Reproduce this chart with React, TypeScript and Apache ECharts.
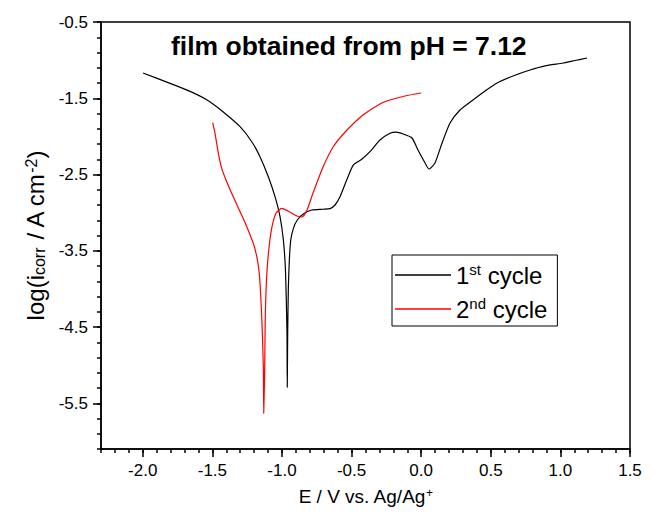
import React, { useEffect, useRef } from "react";
import * as echarts from "echarts";

// 1st cycle: potential (V vs Ag/Ag+) and log(i)
const cycle1E = [-1.998, -1.804, -1.66, -1.538, -1.424, -1.301, -1.217, -1.158, -1.098, -1.05, -1.014, -0.99, -0.976, -0.969, -0.964, -0.962, -0.959, -0.954, -0.947, -0.937, -0.918, -0.89, -0.847, -0.786, -0.703, -0.655, -0.619, -0.583, -0.535, -0.487, -0.427, -0.368, -0.296, -0.224, -0.18, -0.13, -0.066, -0.023, 0.028, 0.056, 0.099, 0.15, 0.207, 0.279, 0.372, 0.459, 0.545, 0.66, 0.782, 0.89, 1.019, 1.105, 1.191];
const cycle1LogI = [-1.169, -1.305, -1.41, -1.523, -1.676, -1.873, -2.07, -2.266, -2.529, -2.791, -3.053, -3.359, -3.709, -4.146, -4.583, -5.291, -4.583, -3.971, -3.621, -3.359, -3.206, -3.097, -3.018, -2.966, -2.956, -2.948, -2.9, -2.791, -2.572, -2.375, -2.301, -2.201, -2.048, -1.96, -1.945, -1.969, -2.021, -2.179, -2.349, -2.428, -2.349, -2.087, -1.825, -1.654, -1.523, -1.405, -1.3, -1.208, -1.13, -1.075, -1.038, -1.005, -0.972];

// 2nd cycle
const cycle2E = [-1.498, -1.481, -1.457, -1.433, -1.397, -1.35, -1.301, -1.253, -1.206, -1.181, -1.163, -1.151, -1.141, -1.134, -1.131, -1.124, -1.12, -1.11, -1.095, -1.074, -1.043, -1.002, -0.957, -0.892, -0.856, -0.82, -0.777, -0.705, -0.633, -0.533, -0.418, -0.296, -0.224, -0.116, -0.001];
const cycle2LogI = [-1.821, -1.96, -2.222, -2.419, -2.594, -2.791, -2.988, -3.184, -3.403, -3.578, -3.796, -4.146, -4.583, -5.02, -5.632, -5.02, -4.365, -3.84, -3.49, -3.206, -3.009, -2.943, -2.979, -3.044, -3.057, -2.966, -2.743, -2.402, -2.139, -1.916, -1.72, -1.575, -1.523, -1.47, -1.431];

const seriesNames = ["1st cycle", "2nd cycle"];
const xTickLabels = [-2.0, -1.5, -1.0, -0.5, 0.0, 0.5, 1.0, 1.5];
const yTickLabels = [-0.5, -1.5, -2.5, -3.5, -4.5, -5.5];
const titleText = "film obtained from pH = 7.12";

const FONT = "'Liberation Sans', Arial, Helvetica, sans-serif";

export default function App() {
  const ref = useRef<HTMLDivElement>(null);
  useEffect(() => {
    if (!ref.current) return;
    const chart = echarts.init(ref.current, null, { renderer: "svg" });
    const pairs = (xs: number[], ys: number[]) => xs.map((x, i) => [x, ys[i]]);
    const tickLine = { color: "#000", width: 1.5 };
    chart.setOption({
      animation: false,
      backgroundColor: "#fff",
      textStyle: { fontFamily: FONT, color: "#000" },
      title: {
        text: titleText,
        left: 171,
        top: 32,
        padding: 0,
        textStyle: { fontFamily: FONT, fontSize: 26.5, fontWeight: "bold", color: "#000" },
      },
      grid: {
        left: 101,
        right: 26,
        top: 22,
        bottom: 71,
        show: true,
        borderColor: "#000",
        borderWidth: 1.5,
        backgroundColor: "transparent",
      },
      legend: {
        orient: "vertical",
        left: 392,
        top: 255,
        padding: [7, 10, 4, 3],
        itemGap: 8,
        itemWidth: 56,
        itemHeight: 1.3,
        icon: "rect",
        borderColor: "#000",
        borderWidth: 1,
        data: seriesNames,
        formatter: (name: string) =>
          name === seriesNames[0] ? "1{sup|st} cycle" : "2{sup|nd} cycle",
        textStyle: {
          fontFamily: FONT,
          fontSize: 24,
          color: "#000",
          lineHeight: 26,
          rich: {
            sup: { fontFamily: FONT, fontSize: 15, color: "#000", verticalAlign: "top", lineHeight: 15 },
          },
        },
      },
      xAxis: [
        {
          type: "value",
          min: -2.3,
          max: 1.5,
          position: "bottom",
          splitLine: { show: false },
          name: "E / V vs. Ag/Ag{sup|+}",
          nameLocation: "middle",
          nameGap: 38,
          nameTextStyle: {
            fontFamily: FONT,
            fontSize: 19,
            color: "#000",
            rich: { sup: { fontFamily: FONT, fontSize: 12, color: "#000", verticalAlign: "top", lineHeight: 12 } },
          },
          axisLine: { show: true, onZero: false, lineStyle: tickLine },
          axisTick: { show: true, customValues: xTickLabels, length: 8, lineStyle: tickLine },
          axisLabel: {
            customValues: xTickLabels,
            formatter: (v: number) => v.toFixed(1),
            fontFamily: FONT,
            fontSize: 17,
            color: "#000",
            margin: 13,
          },
        },
        {
          type: "value",
          min: -2.3,
          max: 1.5,
          interval: 0.1,
          position: "bottom",
          offset: 0,
          splitLine: { show: false },
          axisLine: { show: false, onZero: false },
          axisTick: { show: true, length: 4, lineStyle: tickLine },
          axisLabel: { show: false },
        },
      ],
      yAxis: [
        {
          type: "value",
          min: -6.1,
          max: -0.5,
          position: "left",
          splitLine: { show: false },
          name: "log(i{sub|corr} / A cm{sup|-2})",
          nameLocation: "middle",
          nameGap: 54,
          nameTextStyle: {
            fontFamily: FONT,
            fontSize: 24,
            color: "#000",
            rich: {
              sub: { fontFamily: FONT, fontSize: 16, color: "#000", verticalAlign: "bottom", lineHeight: 16 },
              sup: { fontFamily: FONT, fontSize: 16, color: "#000", verticalAlign: "top", lineHeight: 16 },
            },
          },
          axisLine: { show: true, onZero: false, lineStyle: tickLine },
          axisTick: { show: true, customValues: yTickLabels, length: 8, lineStyle: tickLine },
          axisLabel: {
            customValues: yTickLabels,
            formatter: (v: number) => v.toFixed(1),
            fontFamily: FONT,
            fontSize: 17,
            color: "#000",
            margin: 13,
          },
        },
        {
          type: "value",
          min: -6.1,
          max: -0.5,
          interval: 0.2,
          position: "left",
          offset: 0,
          splitLine: { show: false },
          axisLine: { show: false, onZero: false },
          axisTick: { show: true, length: 4, lineStyle: tickLine },
          axisLabel: { show: false },
        },
      ],
      series: [
        {
          name: seriesNames[0],
          type: "line",
          xAxisIndex: 0,
          yAxisIndex: 0,
          data: pairs(cycle1E, cycle1LogI),
          showSymbol: false,
          symbol: "none",
          smooth: 0.2,
          lineStyle: { color: "#000", width: 1.2 },
          itemStyle: { color: "#000" },
        },
        {
          name: seriesNames[1],
          type: "line",
          xAxisIndex: 0,
          yAxisIndex: 0,
          data: pairs(cycle2E, cycle2LogI),
          showSymbol: false,
          symbol: "none",
          smooth: 0.2,
          lineStyle: { color: "#ff0000", width: 1.2 },
          itemStyle: { color: "#ff0000" },
        },
        {
          name: "minor-ticks",
          type: "line",
          xAxisIndex: 1,
          yAxisIndex: 1,
          data: [],
          silent: true,
        },
      ],
    });
    return () => chart.dispose();
  }, []);
  return <div ref={ref} style={{ width: 656, height: 520, position: "absolute", left: 0, top: 0 }} />;
}
